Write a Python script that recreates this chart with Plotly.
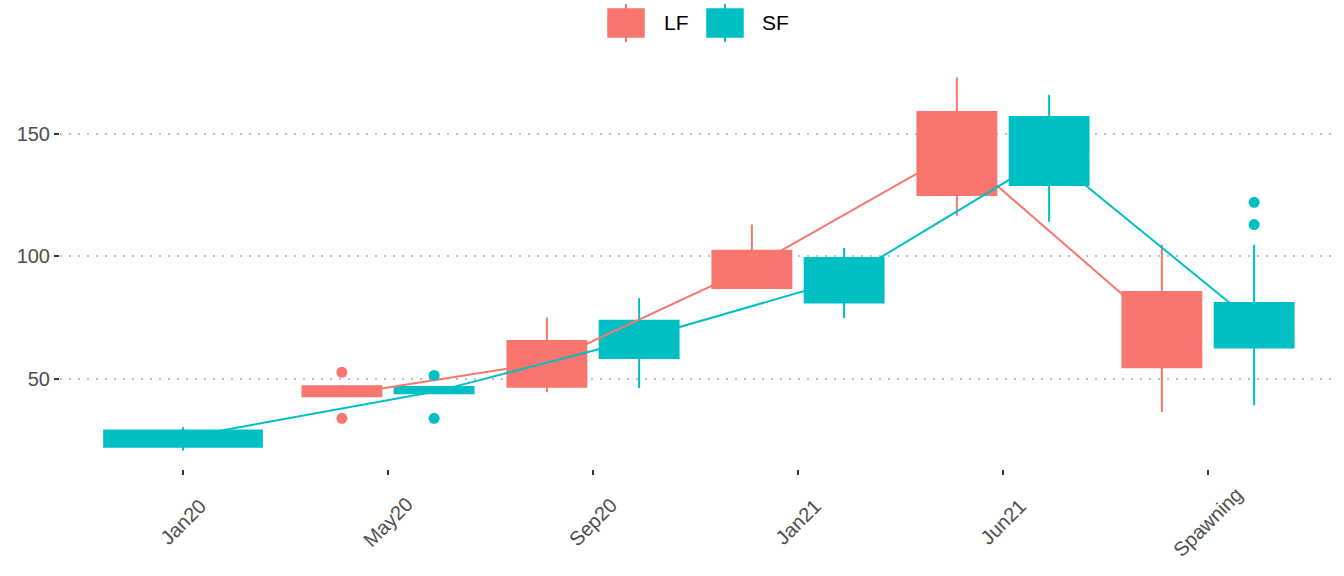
import plotly.graph_objects as go

# ---------------- data ----------------
categories = ["Jan20", "May20", "Sep20", "Jan21", "Jun21", "Spawning"]
groups = ["LF", "SF"]

lf_lower = [None, 42.8, 44.4, 86.6, 116.5, 36.4]
lf_q1 = [None, 42.8, 46.7, 87.0, 125.0, 54.6]
lf_median = [None, 43.4, 56.6, 95.5, 143.0, 70.4]
lf_q3 = [None, 46.9, 65.4, 102.2, 158.9, 85.4]
lf_upper = [None, 47.4, 75.0, 112.9, 172.9, 104.7]
lf_outliers = [[], [52.6, 33.8], [], [], [], []]

sf_lower = [20.7, 44.0, 46.2, 74.8, 114.1, 39.1]
sf_q1 = [22.2, 44.0, 58.4, 81.1, 129.1, 62.7]
sf_median = [26.0, 44.6, 66.3, 90.5, 141.0, 72.8]
sf_q3 = [28.8, 46.6, 73.6, 99.3, 156.8, 80.9]
sf_upper = [30.1, 46.6, 82.9, 103.3, 165.9, 104.7]
sf_outliers = [[], [51.3, 33.8], [], [], [], [122.0, 112.9]]

y_ticks = [50, 100, 150]

# ---------------- styling ----------------
colors = {"LF": "#F8766D", "SF": "#00BFC4"}
FONT = "Liberation Sans, Arial, sans-serif"
DODGE = 0.9        # total dodge width per category
BOX_FRAC = 0.855   # box width as a fraction of its dodge slot

stats = {
    "LF": dict(lo=lf_lower, q1=lf_q1, med=lf_median, q3=lf_q3, hi=lf_upper, out=lf_outliers),
    "SF": dict(lo=sf_lower, q1=sf_q1, med=sf_median, q3=sf_q3, hi=sf_upper, out=sf_outliers),
}

# dodge positions (ggplot-style: a lone group takes the full width)
pos = {g: [None] * len(categories) for g in groups}
wid = {g: [None] * len(categories) for g in groups}
for i in range(len(categories)):
    present = [g for g in groups if stats[g]["med"][i] is not None]
    slot = DODGE / len(present)
    for k, g in enumerate(present):
        pos[g][i] = i - DODGE / 2 + slot * (k + 0.5)
        wid[g][i] = slot * BOX_FRAC

fig = go.Figure()

# boxes
for g in groups:
    s = stats[g]
    for i in range(len(categories)):
        if s["med"][i] is None:
            continue
        fig.add_trace(go.Box(
            x=[pos[g][i]], q1=[s["q1"][i]], median=[s["med"][i]], q3=[s["q3"][i]],
            lowerfence=[s["lo"][i]], upperfence=[s["hi"][i]],
            width=wid[g][i], fillcolor=colors[g],
            line=dict(color=colors[g], width=2), whiskerwidth=0,
            boxpoints=False, showlegend=False, hoverinfo="skip",
        ))

# median lines
for g in groups:
    s = stats[g]
    xs = [pos[g][i] for i in range(len(categories)) if s["med"][i] is not None]
    ys = [s["med"][i] for i in range(len(categories)) if s["med"][i] is not None]
    fig.add_trace(go.Scatter(x=xs, y=ys, mode="lines",
                             line=dict(color=colors[g], width=2),
                             showlegend=False, hoverinfo="skip"))

# outliers
for g in groups:
    s = stats[g]
    ox, oy = [], []
    for i in range(len(categories)):
        for v in s["out"][i]:
            ox.append(pos[g][i])
            oy.append(v)
    fig.add_trace(go.Scatter(x=ox, y=oy, mode="markers",
                             marker=dict(color=colors[g], size=11),
                             showlegend=False, hoverinfo="skip"))

# ---------------- layout ----------------
W, H = 1344, 576
ML, MR, MT, MB = 60, 13, 59, 107
pw, ph = W - ML - MR, H - MT - MB

def px2paper(x, y):
    return (x - ML) / pw, (H - MB - y) / ph

shapes = []
annotations = []
legend_items = [("LF", 608, 662), ("SF", 707, 760)]
for g, x0, tx in legend_items:
    a = px2paper(x0, 37)
    b = px2paper(x0 + 36, 9)
    shapes.append(dict(type="rect", xref="paper", yref="paper",
                       x0=a[0], y0=a[1], x1=b[0], y1=b[1],
                       fillcolor=colors[g], line=dict(color=colors[g], width=1.5)))
    c = px2paper(x0 + 18, 42)
    d = px2paper(x0 + 18, 4)
    shapes.append(dict(type="line", xref="paper", yref="paper",
                       x0=c[0], y0=c[1], x1=d[0], y1=d[1],
                       line=dict(color=colors[g], width=2)))
    t = px2paper(tx, 23)
    annotations.append(dict(text=g, xref="paper", yref="paper", x=t[0], y=t[1],
                            xanchor="left", yanchor="middle", showarrow=False,
                            font=dict(family=FONT, size=21, color="#000000")))

# rotated category labels, centred below their ticks (ggplot angle=45 style)
label_y = px2paper(0, 522)[1]
for i, cat in enumerate(categories):
    annotations.append(dict(text=cat, xref="x", yref="paper", x=i, y=label_y,
                            xanchor="center", yanchor="middle", showarrow=False,
                            textangle=-45,
                            font=dict(family=FONT, size=20, color="#4d4d4d")))

fig.update_layout(
    width=W, height=H,
    margin=dict(l=ML, r=MR, t=MT, b=MB, autoexpand=False),
    plot_bgcolor="white", paper_bgcolor="white",
    shapes=shapes, annotations=annotations,
    showlegend=False,
    font=dict(family=FONT),
)
fig.update_xaxes(
    range=[-0.6, len(categories) - 1 + 0.6],
    tickmode="array", tickvals=list(range(len(categories))), ticktext=categories,
    showticklabels=False,
    ticks="outside", ticklen=5, tickwidth=2, tickcolor="#333333",
    showgrid=False, zeroline=False, showline=False, automargin=False,
)
fig.update_yaxes(
    range=[13.1, 180.5],
    tickmode="array", tickvals=y_ticks,
    ticks="outside", ticklen=5, tickwidth=2, tickcolor="#333333",
    tickfont=dict(family=FONT, size=20, color="#4d4d4d"),
    showgrid=True, gridcolor="#bebebe", gridwidth=2, griddash="2px,7px",
    zeroline=False, showline=False, automargin=False,
)

fig.write_html("out.html", config={"displayModeBar": False},
               post_script="document.body.style.margin='0px';")
